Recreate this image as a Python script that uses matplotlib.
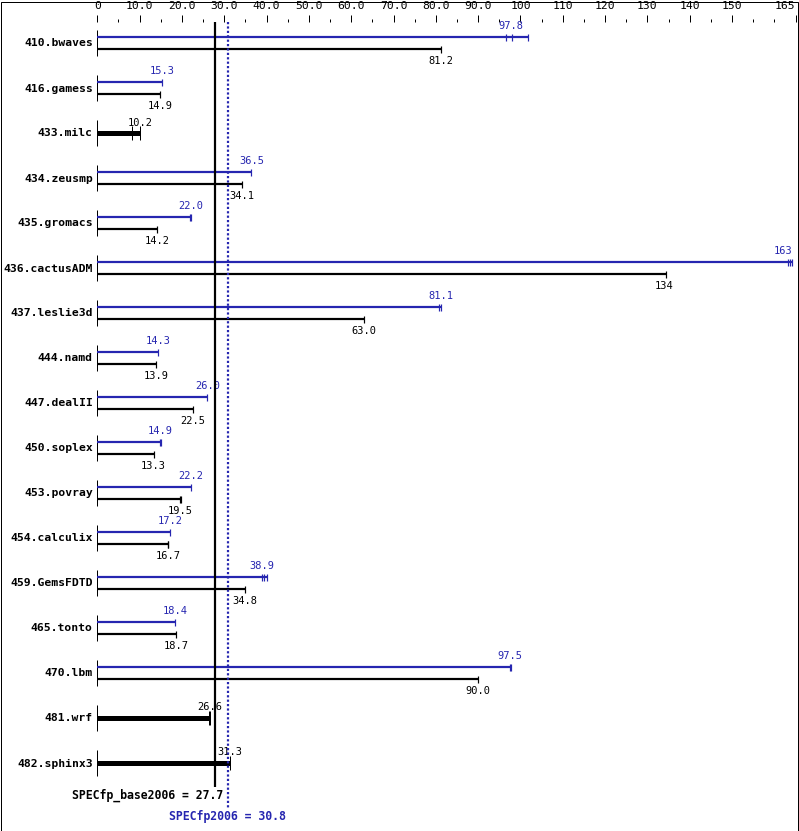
import matplotlib
matplotlib.use('Agg')
import matplotlib.pyplot as plt
from matplotlib.patches import Rectangle

# SPEC CPU2006 fp results: median ratios and the individual run ratios
benchmarks = ["410.bwaves", "416.gamess", "433.milc", "434.zeusmp",
              "435.gromacs", "436.cactusADM", "437.leslie3d", "444.namd",
              "447.dealII", "450.soplex", "453.povray", "454.calculix",
              "459.GemsFDTD", "465.tonto", "470.lbm", "481.wrf",
              "482.sphinx3"]

base_ratio = [81.2, 14.9, 10.2, 34.1, 14.2, 134, 63.0, 13.9, 22.5, 13.3,
              19.5, 16.7, 34.8, 18.7, 90.0, 26.6, 31.3]
# None -> peak not run separately (drawn as one thick bar)
peak_ratio = [97.8, 15.3, None, 36.5, 22.0, 163, 81.1, 14.3, 26.0, 14.9,
              22.2, 17.2, 38.9, 18.4, 97.5, None, None]

base_runs = [[81.2], [14.9], [8.1, 10.2], [34.1], [14.2], [134.5], [63.0],
             [13.9], [22.5], [13.3], [19.5, 19.7], [16.7, 16.8], [34.8],
             [18.7], [90.0], [26.4, 26.7], [31.4]]
peak_runs = [[96.5, 97.9, 101.7], [15.4], None, [36.4], [21.9, 22.1],
             [163.2, 163.6, 164.1], [80.8, 81.3], [14.3], [26.0],
             [14.9, 15.1], [22.2], [17.2], [38.9, 39.3, 40.2], [18.4],
             [97.5, 97.7], None, None]

base_score = 27.7
peak_score = 30.8

major_ticks = [0, 10, 20, 30, 40, 50, 60, 70, 80, 90, 100, 110, 120, 130,
               140, 150, 165]
major_labels = ["0", "10.0", "20.0", "30.0", "40.0", "50.0", "60.0", "70.0",
                "80.0", "90.0", "100", "110", "120", "130", "140", "150",
                "165"]
minor_ticks = [5, 15, 25, 35, 45, 55, 65, 75, 85, 95, 105, 115, 125, 135,
               145, 155, 160]

blue = "#2626b0"
mono = "DejaVu Sans Mono"
px = 0.72  # one pixel in points at dpi 100

W, H = 799, 831
x0_px, x1_px = 97.3, 795.5
top_px = 22
unit = (x1_px - x0_px) / 165.0  # pixels per ratio unit

fig = plt.figure(figsize=(W / 100, H / 100), dpi=100)
ax = fig.add_axes([x0_px / W, 0, (x1_px - x0_px) / W, (H - top_px) / H])
ax.set_xlim(0, 165)
ax.set_ylim(H, top_px)  # y in pixel rows
for s in ax.spines.values():
    s.set_visible(False)
ax.set_yticks([])

ax.xaxis.tick_top()
ax.set_xticks(major_ticks)
ax.set_xticklabels(major_labels, fontfamily=mono, fontsize=8.2)
ax.get_xticklabels()[-1].set_horizontalalignment('right')
ax.set_xticks(minor_ticks, minor=True)
ax.tick_params(which='major', axis='x', direction='out', length=7 * px,
               width=px, pad=3)
ax.tick_params(which='minor', axis='x', direction='out', length=3.5 * px,
               width=px)

for i, name in enumerate(benchmarks):
    y = 43.5 + 45 * i
    ax.vlines(0, y - 13, y + 13, lw=px, color='k')
    ax.text(-4.6 / unit, y, name, ha='right', va='center', fontfamily=mono,
            fontsize=8.2, fontweight='bold')

    if peak_ratio[i] is None:
        runs = base_runs[i]
        ax.hlines(y, 0, max(runs), lw=5 * px, color='k')
        ax.vlines(runs, y - 7, y + 7, lw=px, color='k')
        ax.text(base_ratio[i], y - 11, "%.1f" % base_ratio[i], ha='center',
                va='center', fontfamily=mono, fontsize=7.5, color='k')
        continue

    # peak (blue, above)
    runs = peak_runs[i]
    yp = y - 6
    ax.hlines(yp, 0, max(runs), lw=2.2 * px, color=blue)
    ax.vlines(runs, yp - 3.5, yp + 3.5, lw=1.2 * px, color=blue)
    lab = "%.1f" % peak_ratio[i] if peak_ratio[i] < 100 else "%d" % peak_ratio[i]
    lx = min(peak_ratio[i], 165 - 12 / unit)
    ax.text(lx, yp - 11.5, lab, ha='center', va='center', fontfamily=mono,
            fontsize=7.5, color=blue)

    # base (black, below)
    runs = base_runs[i]
    yb = y + 6
    ax.hlines(yb, 0, max(runs), lw=2.2 * px, color='k')
    ax.vlines(runs, yb - 3.5, yb + 3.5, lw=1.2 * px, color='k')
    lab = "%.1f" % base_ratio[i] if base_ratio[i] < 100 else "%d" % base_ratio[i]
    ax.text(base_ratio[i], yb + 11.5, lab, ha='center', va='center',
            fontfamily=mono, fontsize=7.5, color='k')

# overall scores
ax.vlines(base_score, top_px, 787, lw=2.2 * px, color='k', zorder=5)
ax.vlines(peak_score, top_px, 808, lw=2.2 * px, color=blue,
          linestyles=(0, (1, 1)), zorder=6)
ax.text(base_score + 8.3 / unit, 795, "SPECfp_base2006 = %.1f" % base_score,
        ha='right', va='center', fontfamily=mono, fontsize=8.3,
        fontweight='bold', color='k')
ax.text(peak_score, 816.5, "SPECfp2006 = %.1f" % peak_score, ha='center',
        va='center', fontfamily=mono, fontsize=8.3, fontweight='bold',
        color=blue)

fig.patches.append(Rectangle((0.5 / W, 0.5 / H), (W - 2) / W, (H - 2) / H,
                             transform=fig.transFigure, fill=False,
                             lw=px, edgecolor='k'))

fig.savefig("out.png", dpi=100)
